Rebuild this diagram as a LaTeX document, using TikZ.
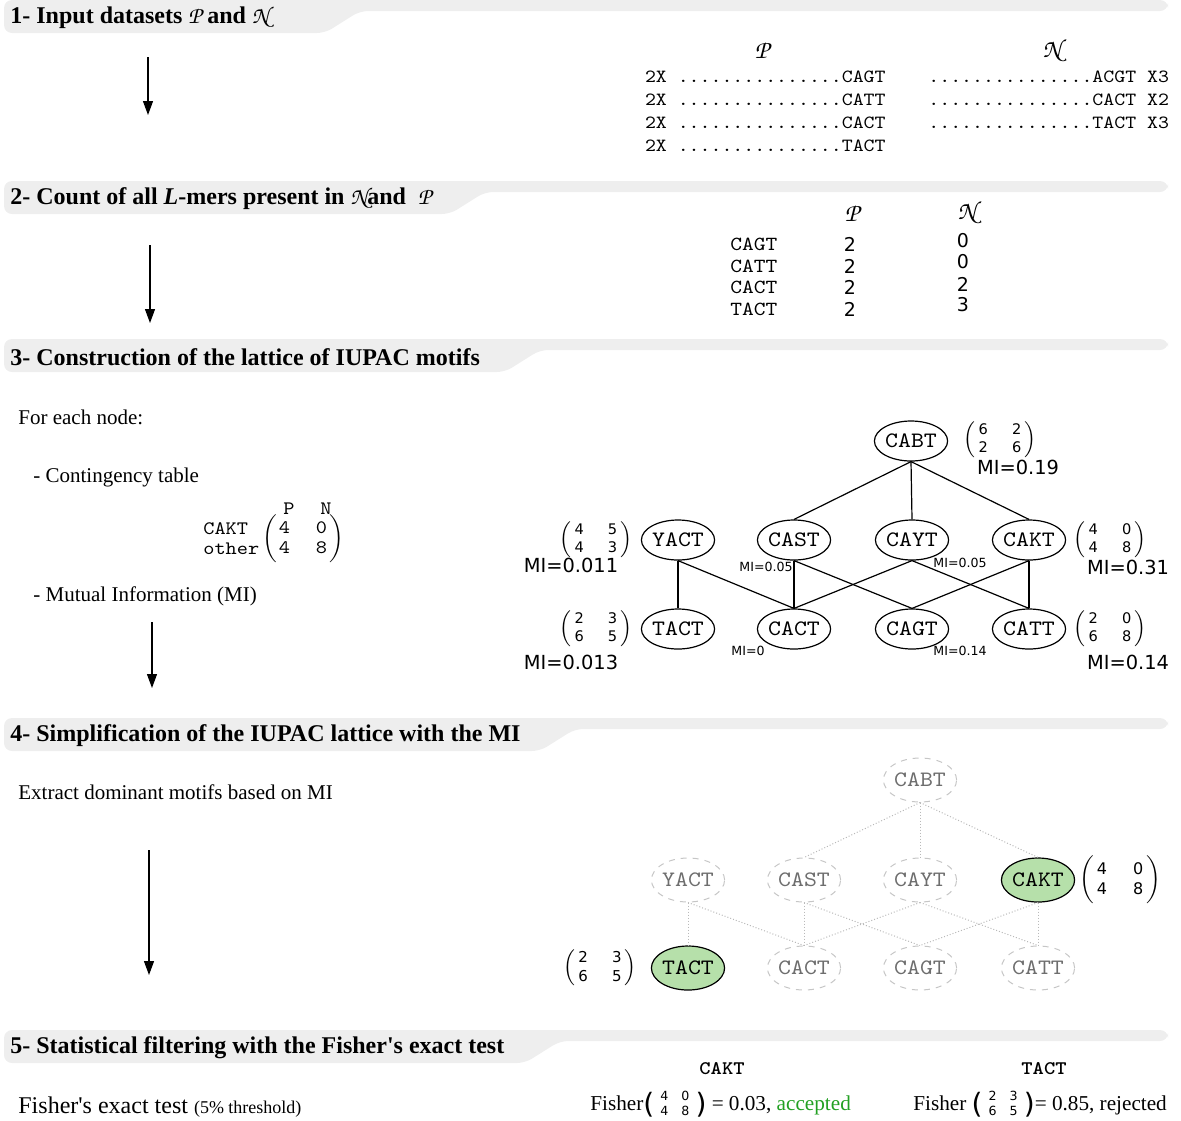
\documentclass[tikz,border=0pt]{standalone}
\usepackage{fontspec}
\setmainfont{Liberation Serif}
\newfontfamily\dvs{DejaVu Sans}
\newfontfamily\cour{lmmono10-regular.otf}[FakeStretch=1.12,BoldFont=lmmonolt10-bold.otf]
\usetikzlibrary{arrows.meta,shapes.geometric}
\definecolor{hdrgray}{RGB}{238,238,238}
\definecolor{nodegreen}{RGB}{182,224,170}
\definecolor{accgreen}{RGB}{34,160,34}
\definecolor{fadegray}{RGB}{110,110,110}
\newcommand\calP{{\usefont{OT1}{pzc}{mb}{it}P}}
\newcommand\calN{{\usefont{OT1}{pzc}{mb}{it}N}}
\newcommand\mtx[8][1.5pt]{{\dvs\fontsize{#2}{#3}\selectfont$\left(\begin{tabular}{@{\hspace{#1}}c@{\hspace{#4}}c@{\hspace{#1}}}#5&#6\\#7&#8\end{tabular}\right)$}}
\newcommand\fparen[1]{\vcenter{\hbox{\dvs\fontsize{14}{14}\selectfont#1}}}
\newcommand\fmtx[4]{$\fparen{(}\mkern5mu\vcenter{\hbox{\dvs\fontsize{6.3}{7.6}\selectfont\begin{tabular}{@{}c@{\hspace{6.5pt}}c@{}}#1&#2\\#3&#4\end{tabular}}}\mkern5mu\fparen{)}$}
\newcommand\header[4]{%
  \fill[hdr] (4,#1) -- (1168,#1) -- (1168,#1+11) -- (#2,#1+11) -- (#2-35,#1+33) -- (4,#1+33) -- cycle;
  \node[headtext] (#3) at (10,#1+18) {#4};}
\tikzset{
  hdr/.style={fill=hdrgray, rounded corners=4pt},
  headtext/.style={font=\bfseries\fontsize{12}{14}\selectfont, anchor=west, inner sep=0},
  body/.style={font=\fontsize{10.5}{12}\selectfont, anchor=west, inner sep=0},
  seq/.style={font=\cour\fontsize{9.3}{11}\selectfont, inner sep=0},
  cnt/.style={font=\dvs\fontsize{9.5}{11}\selectfont, inner sep=0},
  cal/.style={font=\fontsize{13}{15}\selectfont, inner sep=0},
  lat/.style={ellipse, draw, line width=0.6pt, minimum width=34pt, minimum height=20pt, inner sep=0, font=\cour\fontsize{11}{12}\selectfont},
  latf/.style={ellipse, draw=gray!45, dashed, line width=0.5pt, minimum width=36pt, minimum height=22pt, inner sep=0, text=fadegray, font=\cour\fontsize{11}{12}\selectfont},
  latg/.style={ellipse, draw=black, fill=nodegreen, line width=0.6pt, minimum width=36pt, minimum height=22pt, inner sep=0, font=\cour\fontsize{11}{12}\selectfont},
  edgethree/.style={line width=0.6pt},
  edgefour/.style={densely dotted, gray!55, line width=0.5pt},
  flow/.style={-{Triangle[length=7pt,width=5pt]}, line width=0.6pt},
  mi/.style={font=\dvs\fontsize{9.7}{11}\selectfont, inner sep=0},
  mis/.style={font=\dvs\fontsize{6.3}{7}\selectfont, inner sep=0},
  mat/.style={inner sep=0},
  fish/.style={font=\fontsize{10.6}{12}\selectfont, anchor=west, inner sep=0},
}
\begin{document}
\begin{tikzpicture}[x=0.5pt,y=-0.5pt]
\useasboundingbox (0,0) rectangle (1181,1120);
% ---------- headers
\header{0}{360}{h1}{1- Input datasets \calP{} and \calN}
\header{181}{485}{h2}{2- Count of all \textit{L}-mers present in \calN{}and~~\calP}
\header{339}{540}{h3}{3- Construction of the lattice of IUPAC motifs}
\header{718}{575}{h4}{4- Simplification of the IUPAC lattice with the MI}
\header{1030}{560}{h5}{5- Statistical filtering with the Fisher\textquotesingle s exact test}
% ---------- arrows
\coordinate (a1s) at (148,57);  \coordinate (a1e) at (148,115);
\coordinate (a2s) at (150,245); \coordinate (a2e) at (150,323);
\coordinate (a3s) at (152,622); \coordinate (a3e) at (152,688);
\coordinate (a4s) at (149,850); \coordinate (a4e) at (149,975);
\draw[flow] (a1s) -- (a1e);
\draw[flow] (a2s) -- (a2e);
\draw[flow] (a3s) -- (a3e);
\draw[flow] (a4s) -- (a4e);
% ---------- section 1
\node[cal] (p1) at (762,50) {\calP};
\node[cal] (n1) at (1052,50) {\calN};
\node[seq, anchor=east] (pr1) at (886,77)  {2X ...............CAGT};
\node[seq, anchor=east] (pr2) at (886,100) {2X ...............CATT};
\node[seq, anchor=east] (pr3) at (886,123) {2X ...............CACT};
\node[seq, anchor=east] (pr4) at (886,146) {2X ...............TACT};
\node[seq, anchor=west] (nr1) at (928,77)  {...............ACGT X3};
\node[seq, anchor=west] (nr2) at (928,100) {...............CACT X2};
\node[seq, anchor=west] (nr3) at (928,123) {...............TACT X3};
% ---------- section 2
\node[cal] (p2) at (852,213) {\calP};
\node[cal] (n2) at (967,212) {\calN};
\node[seq, anchor=west, font=\cour\fontsize{10}{11}\selectfont] (k1) at (730,244) {CAGT};
\node[seq, anchor=west, font=\cour\fontsize{10}{11}\selectfont] (k2) at (730,266) {CATT};
\node[seq, anchor=west, font=\cour\fontsize{10}{11}\selectfont] (k3) at (730,287) {CACT};
\node[seq, anchor=west, font=\cour\fontsize{10}{11}\selectfont] (k4) at (730,309) {TACT};
\node[cnt] (kp1) at (850,244) {2};
\node[cnt] (kp2) at (850,266) {2};
\node[cnt] (kp3) at (850,287) {2};
\node[cnt] (kp4) at (850,309) {2};
\node[cnt] (kn1) at (963,241) {0};
\node[cnt] (kn2) at (963,262) {0};
\node[cnt] (kn3) at (963,284) {2};
\node[cnt] (kn4) at (963,305) {3};
% ---------- section 3 left
\node[body] (t1) at (18,417) {For each node:};
\node[body] (t2) at (33,477) {- Contingency table};
\node[seq, font=\cour\fontsize{9.5}{10}\selectfont] (cp) at (289,509) {P};
\node[seq, font=\cour\fontsize{9.5}{10}\selectfont] (cn) at (326,509) {N};
\node[seq, anchor=west, font=\cour\fontsize{9.5}{10}\selectfont] (cr1) at (203,529) {CAKT};
\node[seq, anchor=west, font=\cour\fontsize{9.5}{10}\selectfont] (cr2) at (203,549) {other};
\node[mat] (ctab) at (303,539) {{\cour\fontsize{9.5}{10}\selectfont$\left(\begin{tabular}{@{\hspace{1pt}}l@{\hspace{13pt}}l@{\hspace{1pt}}}4&0\\4&8\end{tabular}\right)$}};
\node[body] (t3) at (33,596) {- Mutual Information (MI)};
% ---------- section 3 lattice
\node[lat] (a0) at (911,441) {CABT};
\node[lat] (a1) at (678,540) {YACT};
\node[lat] (a2) at (794,540) {CAST};
\node[lat] (a3) at (912,540) {CAYT};
\node[lat] (a4) at (1029,540) {CAKT};
\node[lat] (a5) at (678,629) {TACT};
\node[lat] (a6) at (794,629) {CACT};
\node[lat] (a7) at (912,629) {CAGT};
\node[lat] (a8) at (1029,629) {CATT};
\draw[edgethree] (a0.south) -- (a2.north);
\draw[edgethree] (a0.south) -- (a3.north);
\draw[edgethree] (a0.south) -- (a4.north);
\draw[edgethree] (a1.south) -- (a5.north);
\draw[edgethree] (a1.south) -- (a6.north);
\draw[edgethree] (a2.south) -- (a6.north);
\draw[edgethree] (a2.south) -- (a7.north);
\draw[edgethree] (a3.south) -- (a6.north);
\draw[edgethree] (a3.south) -- (a8.north);
\draw[edgethree] (a4.south) -- (a7.north);
\draw[edgethree] (a4.south) -- (a8.north);
\node[mat] (m0) at (1000,440) {\mtx{7.3}{9}{12pt}{6}{2}{2}{6}};
\node[mi]  (i0) at (1018,467) {MI=0.19};
\node[mat] (m1) at (596,540) {\mtx{7.3}{9}{12pt}{4}{5}{4}{3}};
\node[mi]  (i1) at (571,565) {MI=0.011};
\node[mat] (m4) at (1110,540) {\mtx{7.3}{9}{12pt}{4}{0}{4}{8}};
\node[mi]  (i4) at (1128,567) {MI=0.31};
\node[mat] (m5) at (596,629) {\mtx{7.3}{9}{12pt}{2}{3}{6}{5}};
\node[mi]  (i5) at (571,662) {MI=0.013};
\node[mat] (m8) at (1110,629) {\mtx{7.3}{9}{12pt}{2}{0}{6}{8}};
\node[mi]  (i8) at (1128,662) {MI=0.14};
\node[mis] (s2) at (766,567) {MI=0.05};
\node[mis] (s3) at (960,563) {MI=0.05};
\node[mis] (s6) at (748,651) {MI=0};
\node[mis] (s7) at (960,651) {MI=0.14};
% ---------- section 4
\node[body] (t4) at (18,792) {Extract dominant motifs based on MI};
\node[latf] (b0) at (920,780) {CABT};
\node[latf] (b1) at (688,880) {YACT};
\node[latf] (b2) at (804,880) {CAST};
\node[latf] (b3) at (920,880) {CAYT};
\node[latg] (b4) at (1038,880) {CAKT};
\node[latg] (b5) at (688,968) {TACT};
\node[latf] (b6) at (804,968) {CACT};
\node[latf] (b7) at (920,968) {CAGT};
\node[latf] (b8) at (1038,968) {CATT};
\draw[edgefour] (b0.south) -- (b2.north);
\draw[edgefour] (b0.south) -- (b3.north);
\draw[edgefour] (b0.south) -- (b4.north);
\draw[edgefour] (b1.south) -- (b5.north);
\draw[edgefour] (b1.south) -- (b6.north);
\draw[edgefour] (b2.south) -- (b6.north);
\draw[edgefour] (b2.south) -- (b7.north);
\draw[edgefour] (b3.south) -- (b6.north);
\draw[edgefour] (b3.south) -- (b8.north);
\draw[edgefour] (b4.south) -- (b7.north);
\draw[edgefour] (b4.south) -- (b8.north);
\node[mat] (q4) at (1120,880) {\mtx{8}{10}{13pt}{4}{0}{4}{8}};
\node[mat] (q5) at (600,968) {\mtx{7.5}{9.5}{12pt}{2}{3}{6}{5}};
% ---------- section 5
\node[body, font=\fontsize{12}{14}\selectfont] (t5) at (18,1107) {Fisher\textquotesingle s exact test {\fontsize{9}{11}\selectfont(5\% threshold)}};
\node[seq, font=\cour\bfseries\fontsize{9.6}{11}\selectfont] (c1) at (722,1069) {CAKT};
\node[seq, font=\cour\bfseries\fontsize{9.6}{11}\selectfont] (c2) at (1044,1069) {TACT};
\node[fish] (f1) at (590,1105) {Fisher\fmtx{4}{0}{4}{8} = 0.03, \textcolor{accgreen}{accepted}};
\node[fish] (f2) at (913,1105) {Fisher \fmtx{2}{3}{6}{5}= 0.85, rejected};
\end{tikzpicture}
\end{document}
